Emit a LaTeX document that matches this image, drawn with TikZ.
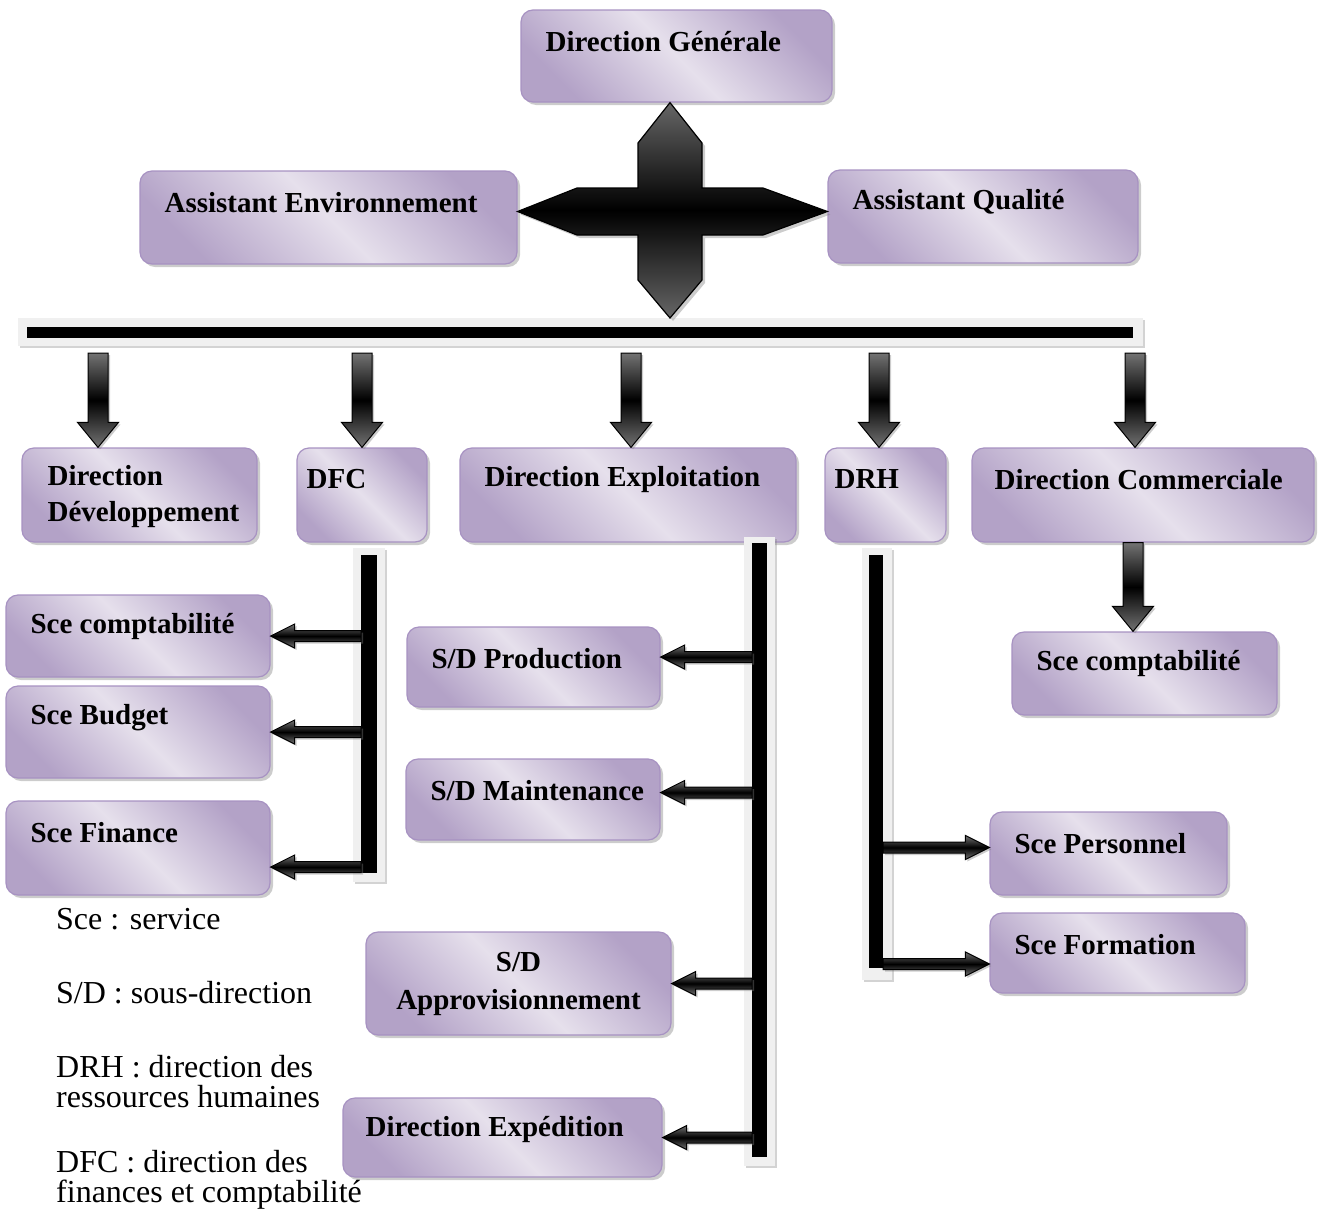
\documentclass[tikz,border=0pt]{standalone}
\usepackage{fontspec}
\setmainfont{Liberation Serif}
\usetikzlibrary{calc, shadows}

\definecolor{boxdark}{HTML}{B3A2C7}
\definecolor{boxlight}{HTML}{E6E0EC}
\definecolor{boxedge}{HTML}{A792C2}

\newcommand{\orgfont}{\bfseries\fontsize{29}{36}\selectfont}
\newcommand{\notefont}{\fontsize{32}{30}\selectfont}

\tikzset{
  orgbox/.style={draw=boxedge, line width=1.2pt, rounded corners=12pt, inner sep=0pt,
    top color=boxdark, bottom color=boxdark, middle color=boxlight, shading angle=-45,
    drop shadow={shadow xshift=3pt, shadow yshift=-3pt, opacity=.4}},
  lbl/.style={anchor=west, align=left, inner sep=0pt, font=\orgfont, xshift=#1, yshift=-32pt},
  lbl/.default=25pt,
  note/.style={anchor=west, align=left, inner sep=0pt, font=\notefont},
  railframe/.style={fill=black!6, inner sep=0pt, outer sep=0pt,
    drop shadow={shadow xshift=2pt, shadow yshift=-2pt, opacity=.35}},
  railcore/.style={fill=black, inner sep=0pt, outer sep=0pt},
  blockarrow/.style n args={3}{draw=black, line width=1pt, line join=miter,
    top color=black!55, bottom color=black!55, middle color=black,
    drop shadow={shadow xshift=2pt, shadow yshift=-2pt, opacity=.4},
    to path={let \p1=(\tikztostart), \p2=(\tikztotarget),
      \n1={atan2(\y2-\y1,\x2-\x1)}, \n2={veclen(\x2-\x1,\y2-\y1)-#3} in
      ($(\p1)+(\n1+90:#1)$) -- ($(\p1)+(\n1:\n2)+(\n1+90:#1)$)
      -- ($(\p1)+(\n1:\n2)+(\n1+90:#2)$) -- (\p2)
      -- ($(\p1)+(\n1:\n2)+(\n1-90:#2)$) -- ($(\p1)+(\n1:\n2)+(\n1-90:#1)$)
      -- ($(\p1)+(\n1-90:#1)$) -- cycle}},
  bigarrow/.style={blockarrow={10pt}{20.5pt}{25pt}},
  smallarrow/.style={blockarrow={5.5pt}{12pt}{24pt}},
  crossarrow/.style={draw=black, line width=1.2pt, line join=miter,
    top color=black!60, bottom color=black!60, middle color=black,
    drop shadow={shadow xshift=3pt, shadow yshift=-3pt, opacity=.4}},
}

\begin{document}
\begin{tikzpicture}[x=1pt, y=-1pt]
  \useasboundingbox (0,0) rectangle (1328,1229);

  % top level
  \node[orgbox, minimum width=311, minimum height=92, label={[lbl]north west:Direction Générale}] (dg) at (676.5,56) {};
  \node[orgbox, minimum width=377, minimum height=93, label={[lbl]north west:Assistant Environnement}] (ae) at (328.5,217.5) {};
  \node[orgbox, minimum width=310, minimum height=93, label={[lbl]north west:Assistant Qualité}] (aq) at (983,216.5) {};

  % directions
  \node[orgbox, minimum width=235, minimum height=94, label={[lbl=26pt, yshift=-17pt]north west:{Direction\\Développement}}] (ddev) at (139.5,495) {};
  \node[orgbox, minimum width=130, minimum height=94, label={[lbl=10pt]north west:DFC}] (dfc) at (362,495) {};
  \node[orgbox, minimum width=336, minimum height=94, label={[lbl]north west:Direction Exploitation}] (dexp) at (628,495) {};
  \node[orgbox, minimum width=121, minimum height=94, label={[lbl=10pt]north west:DRH}] (drh) at (885.5,495) {};
  \node[orgbox, minimum width=342, minimum height=94, label={[lbl=23pt]north west:Direction Commerciale}] (dcom) at (1143,495) {};

  % services
  \node[orgbox, minimum width=264, minimum height=82, label={[lbl]north west:Sce comptabilité}] (scc1) at (138,636) {};
  \node[orgbox, minimum width=264, minimum height=92, label={[lbl]north west:Sce Budget}] (sceb) at (138,732) {};
  \node[orgbox, minimum width=264, minimum height=94, label={[lbl]north west:Sce Finance}] (scef) at (138,848) {};
  \node[orgbox, minimum width=253, minimum height=80, label={[lbl]north west:S/D Production}] (sdp) at (533.5,667) {};
  \node[orgbox, minimum width=254, minimum height=81, label={[lbl]north west:S/D Maintenance}] (sdm) at (533,799.5) {};
  \node[orgbox, minimum width=305, minimum height=103, font=\orgfont, align=center] (sda) at (518.5,983.5) {S/D\\[2pt]Approvisionnement};
  \node[orgbox, minimum width=319, minimum height=79, label={[lbl=23pt]north west:Direction Expédition}] (dexpd) at (502.5,1137.5) {};
  \node[orgbox, minimum width=265, minimum height=83, label={[lbl]north west:Sce comptabilité}] (scc2) at (1144.5,673.5) {};
  \node[orgbox, minimum width=237, minimum height=83, label={[lbl]north west:Sce Personnel}] (scp) at (1108.5,853.5) {};
  \node[orgbox, minimum width=255, minimum height=80, label={[lbl]north west:Sce Formation}] (scfo) at (1117.5,953) {};

  % bars
  \node[railframe, minimum width=1125, minimum height=28] (busbg) at (580.5,332) {};
  \node[railcore, minimum width=1106, minimum height=11] (bus) at (580,332.5) {};
  \node[railframe, minimum width=32, minimum height=334] (dfcbarbg) at (369,715) {};
  \node[railcore, minimum width=16, minimum height=318] (dfcbar) at (369,714) {};
  \node[railframe, minimum width=31, minimum height=629] (exbarbg) at (759.5,851.5) {};
  \node[railcore, minimum width=15, minimum height=614] (exbar) at (759.5,850) {};
  \node[railframe, minimum width=30, minimum height=432] (drhbarbg) at (877,764) {};
  \node[railcore, minimum width=14, minimum height=413] (drhbar) at (876,761.5) {};

  % legend
  \node[note] (lgsce) at (56,919) {Sce : service};
  \node[note] (lgsd) at (56,993) {S/D : sous-direction};
  \node[note] (lgdrh) at (56,1082) {DRH : direction des\\ressources humaines};
  \node[note] (lgdfc) at (56,1180) {DFC : direction des\\finances et comptabilité};

  % four-way arrow
  \coordinate (hub) at (670,211.5);
  \draw[crossarrow] (hub |- dg.south) -- ($(hub)+(32,-68.5)$) -- ($(hub)+(32,-23.5)$)
    -- ($(hub)+(93,-23.5)$) -- (hub -| aq.west) -- ($(hub)+(93,23.5)$) -- ($(hub)+(32,23.5)$)
    -- ($(hub)+(32,68.5)$) -- (hub |- busbg.north) -- ($(hub)+(-32,68.5)$) -- ($(hub)+(-32,23.5)$)
    -- ($(hub)+(-93,23.5)$) -- (hub -| ae.east) -- ($(hub)+(-93,-23.5)$) -- ($(hub)+(-32,-23.5)$)
    -- ($(hub)+(-32,-68.5)$) -- cycle;

  % down arrows
  \coordinate (drop1) at (98,353);
  \coordinate (drop2) at (362,353);
  \coordinate (drop3) at (631,353);
  \coordinate (drop4) at (879,353);
  \coordinate (drop5) at (1135,353);
  \draw[bigarrow] (drop1) to (drop1 |- ddev.north);
  \draw[bigarrow] (drop2) to (drop2 |- dfc.north);
  \draw[bigarrow] (drop3) to (drop3 |- dexp.north);
  \draw[bigarrow] (drop4) to (drop4 |- drh.north);
  \draw[bigarrow] (drop5) to (drop5 |- dcom.north);
  \coordinate (comdrop) at ([xshift=-10pt]dcom.south);
  \draw[bigarrow] (comdrop) to (comdrop |- scc2.north);

  % side arrows
  \draw[smallarrow] (dfcbar.west |- scc1.east) to (scc1.east);
  \draw[smallarrow] (dfcbar.west |- sceb.east) to (sceb.east);
  \coordinate (finhit) at ([yshift=-19pt]scef.east);
  \draw[smallarrow] (dfcbar.west |- finhit) to (finhit);

  \coordinate (prodhit) at ([yshift=10pt]sdp.east);
  \draw[smallarrow] (exbar.west |- prodhit) to (prodhit);
  \coordinate (mainthit) at ([yshift=7pt]sdm.east);
  \draw[smallarrow] (exbar.west |- mainthit) to (mainthit);
  \draw[smallarrow] (exbar.west |- sda.east) to (sda.east);
  \draw[smallarrow] (exbar.west |- dexpd.east) to (dexpd.east);

  \coordinate (perhit) at ([yshift=6pt]scp.west);
  \draw[smallarrow] (drhbar.east |- perhit) to (perhit);
  \coordinate (formhit) at ([yshift=-11pt]scfo.west);
  \draw[smallarrow] (drhbar.east |- formhit) to (formhit);
\end{tikzpicture}
\end{document}
